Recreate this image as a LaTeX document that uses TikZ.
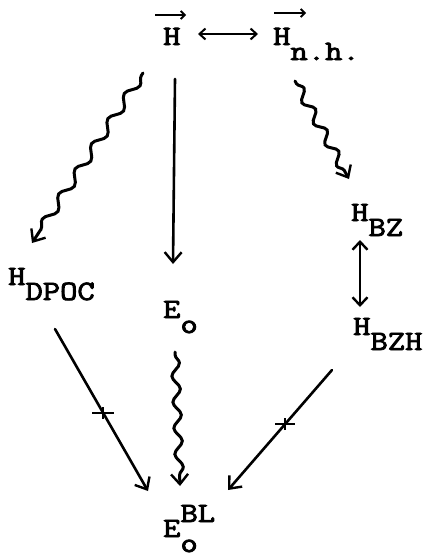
\documentclass[tikz,border=0pt]{standalone}
\usepackage{fontspec}
\newfontfamily\twfont{Latin Modern Mono}[FakeBold=2.8]
\usetikzlibrary{decorations.pathmorphing,arrows.meta}
\tikzset{
  lbl/.style={anchor=base west, inner sep=0pt, font=\fontsize{28}{32}\twfont},
  tipb/.style={-{Straight Barb[length=10pt,width=17pt,line width=2.4pt]}},
  conn/.style={line width=2.6pt, line cap=round},
  wave/.style={conn, line width=3pt, tipb, decorate, decoration={snake, segment length=#1, amplitude=4.5pt, pre length=3pt, post length=9pt}},
  vec/.style={line width=2pt, -{Straight Barb[length=4pt,width=8pt,line width=1.8pt]}},
  dbl/.style={conn, {Straight Barb[length=8pt,width=15pt,line width=2.4pt]}-{Straight Barb[length=8pt,width=15pt,line width=2.4pt]}},
  crossbar/.style={line width=2.6pt},
}
\newcommand{\tw}[1]{\scalebox{1.2}[1]{#1}}
\newcommand{\dn}[1]{\raisebox{-15pt}{#1}}
\newcommand{\up}[1]{\raisebox{15pt}{#1}}
\begin{document}
\begin{tikzpicture}[x=1pt,y=-1pt]
\useasboundingbox (0,0) rectangle (429,557);
% nodes
\node[lbl] (H) at (163,45) {\tw{H}};
\node[lbl] (Hnh) at (273,45) {\tw{H\dn{n.h.}}};
\node[lbl] (Hbz) at (351,221) {\tw{H\dn{BZ}}};
\node[lbl] (Hdpoc) at (8,285) {\tw{H\dn{DPOC}}};
\node[lbl] (Eo) at (163,318) {\tw{E\dn{o}}};
\node[lbl] (Hbzh) at (353,335) {\tw{H\dn{BZH}}};
\node[lbl] (Ebl) at (163,537) {\tw{E\rlap{\up{BL}}\dn{o}}};
% vector arrows over H
\coordinate (v1a) at (155,15); \coordinate (v1b) at (186,15);
\coordinate (v2a) at (274,13); \coordinate (v2b) at (306,13);
\draw[vec] (v1a) -- (v1b);
\draw[vec] (v2a) -- (v2b);
% top double arrow
\coordinate (d1) at (198,34); \coordinate (d2) at (258,34);
\draw[conn, line width=2.2pt, {Straight Barb[length=6pt,width=11pt,line width=2pt]}-{Straight Barb[length=6pt,width=11pt,line width=2pt]}] (d1) -- (d2);
% wavy from H to H_DPOC
\coordinate (w1a) at (143,73); \coordinate (w1b) at (32,243);
\draw[wave=30pt] (w1a) -- (w1b);
% straight from H to E_o
\coordinate (s1a) at (175,79); \coordinate (s1b) at (173,264);
\draw[conn, tipb] (s1a) -- (s1b);
% wavy from H_nh to H_BZ
\coordinate (w2a) at (295,81); \coordinate (w2b) at (349,179);
\draw[wave=24pt] (w2a) -- (w2b);
% double vertical H_BZ <-> H_BZH
\coordinate (b1) at (360,240); \coordinate (b2) at (360,307);
\draw[dbl] (b1) -- (b2);
% wavy E_o to E^BL
\coordinate (w3a) at (175,352); \coordinate (w3b) at (180,486);
\draw[wave=26pt, decoration={amplitude=4pt}] (w3a) -- (w3b);
% H_DPOC to E^BL with cross
\coordinate (l1a) at (55,329); \coordinate (l1b) at (148,491);
\draw[conn, tipb] (l1a) -- (l1b);
\coordinate (x1) at (103,413);
\draw[crossbar] ([xshift=-11pt]x1) -- ([xshift=11pt]x1);
\draw[crossbar] ([yshift=-6pt]x1) -- ([yshift=6pt]x1);
% H_BZH to E^BL with cross
\coordinate (l2a) at (332,370); \coordinate (l2b) at (228,490);
\draw[conn, tipb] (l2a) -- (l2b);
\coordinate (x2) at (285,424);
\draw[crossbar] ([xshift=-10pt]x2) -- ([xshift=10pt]x2);
\draw[crossbar] ([yshift=-6pt]x2) -- ([yshift=6pt]x2);
\end{tikzpicture}
\end{document}
